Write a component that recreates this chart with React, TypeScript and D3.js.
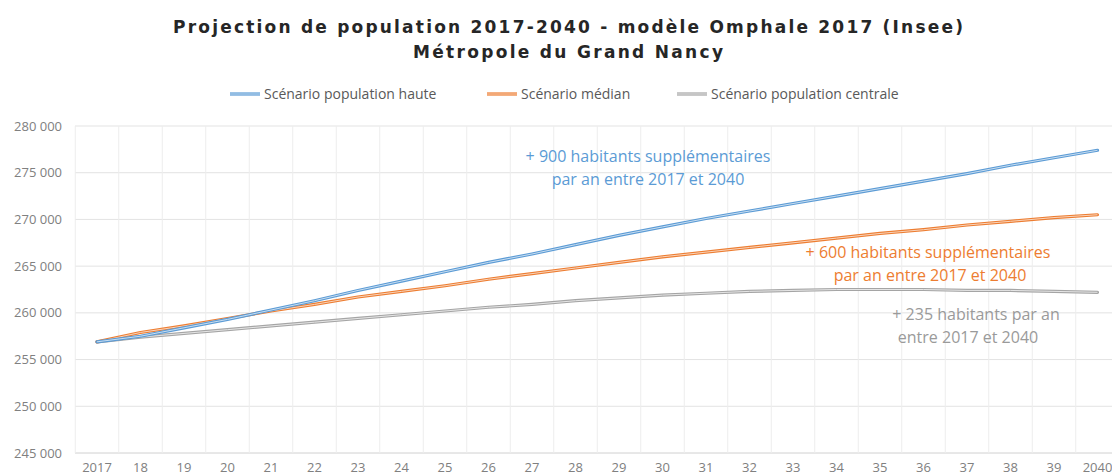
import React from "react";
import * as d3 from "d3";

const years = d3.range(2017, 2041);
const haute = [256.9, 257.5, 258.4, 259.3, 260.3, 261.3, 262.4, 263.4, 264.4, 265.4, 266.3, 267.3, 268.3, 269.2, 270.1, 270.9, 271.7, 272.5, 273.3, 274.1, 274.9, 275.8, 276.6, 277.4];
const median = [256.9, 257.9, 258.6, 259.4, 260.2, 260.9, 261.7, 262.3, 262.9, 263.6, 264.2, 264.8, 265.4, 266.0, 266.5, 267.0, 267.5, 268.0, 268.5, 268.9, 269.4, 269.8, 270.2, 270.5];
const centrale = [256.9, 257.4, 257.8, 258.2, 258.6, 259.0, 259.4, 259.8, 260.2, 260.6, 260.9, 261.3, 261.6, 261.9, 262.1, 262.3, 262.4, 262.5, 262.5, 262.5, 262.4, 262.4, 262.3, 262.2];
const yTicks = [245000, 250000, 255000, 260000, 265000, 270000, 275000, 280000];
const seriesNames = ["Scénario population haute", "Scénario médian", "Scénario population centrale"];
const titleLines = ["Projection de population 2017-2040 - modèle Omphale 2017 (Insee)", "Métropole du Grand Nancy"];

const colors = ["#5B9BD5", "#ED7D31", "#A5A5A5"];
const inner = ["#C9DEF1", "#F9D5BD", "#E6E6E6"];

const fr = d3.formatLocale({ decimal: ",", thousands: "\u00a0", grouping: [3], currency: ["", " €"] });
const fmt = fr.format(",d");

export default function App() {
  const W = 1112, H = 476;
  const x = d3.scaleBand<number>().domain(years).range([75.25, 75.25 + 24 * 43.5]).paddingInner(0).paddingOuter(0);
  const bw = x.bandwidth();
  const cx = (yr: number) => (x(yr) as number) + bw / 2;
  const y = d3.scaleLinear().domain([245000, 280000]).range([453, 126]);
  const line = d3.line<number>().x((_, i) => cx(years[i])).y((v) => y(v * 1000));
  const series = [haute, median, centrale];
  const gridX = years.map((yr) => x(yr) as number).concat([(x(2040) as number) + bw]);
  const font = "'Open Sans', sans-serif";
  const legendX = [230, 487, 677];
  const order = [2, 1, 0];
  return (
    <svg width={W} height={H} style={{ position: "absolute", left: 0, top: 0, background: "#fff" }} fontFamily={font}>
      <rect width={W} height={H} fill="#fff" />
      <text x={568} y={33} textAnchor="middle" fontFamily="'DejaVu Sans', sans-serif" fontWeight="bold" fontSize={17} fill="#262626" textLength={790} lengthAdjust="spacing">{titleLines[0]}</text>
      <text x={568} y={58} textAnchor="middle" fontFamily="'DejaVu Sans', sans-serif" fontWeight="bold" fontSize={17} fill="#262626" textLength={310} lengthAdjust="spacing">{titleLines[1]}</text>
      {seriesNames.map((n, i) => (
        <g key={n}>
          <line x1={legendX[i]} x2={legendX[i] + 30} y1={94} y2={94} stroke={colors[i]} strokeWidth={3.2} />
          <line x1={legendX[i]} x2={legendX[i] + 30} y1={94} y2={94} stroke={inner[i]} strokeWidth={1} />
          <text x={legendX[i] + 34} y={99} fontSize={14} fill="#595959">{n}</text>
        </g>
      ))}
      {yTicks.map((t) => (
        <g key={t}>
          <line x1={75} x2={1120} y1={y(t)} y2={y(t)} stroke={t === 245000 ? "#D0D0D0" : "#E3E3E3"} strokeWidth={1} />
          <text x={62} y={y(t) + 4.5} textAnchor="end" fontSize={13} fill="#808080">{fmt(t)}</text>
        </g>
      ))}
      {gridX.map((gx, i) => (
        <line key={i} x1={gx} x2={gx} y1={126} y2={453} stroke="#EDEDED" strokeWidth={1} />
      ))}
      {years.map((yr, i) => (
        <text key={yr} x={cx(yr)} y={472} textAnchor="middle" fontSize={13} fill="#808080">
          {i === 0 || i === years.length - 1 ? String(yr) : String(yr % 100)}
        </text>
      ))}
      {order.map((i) => (
        <g key={i}>
          <path d={line(series[i]) as string} fill="none" stroke={colors[i]} strokeWidth={3.2} strokeLinejoin="round" strokeLinecap="round" />
          <path d={line(series[i]) as string} fill="none" stroke={inner[i]} strokeWidth={1} strokeLinejoin="round" />
        </g>
      ))}
      <g fontSize={16} textAnchor="middle">
        <text x={648} y={162} fill="#5B9BD5">+ 900 habitants supplémentaires</text>
        <text x={648} y={185} fill="#5B9BD5">par an entre 2017 et 2040</text>
        <text x={928} y={258} fill="#ED7D31">+ 600 habitants supplémentaires</text>
        <text x={930} y={281} fill="#ED7D31">par an entre 2017 et 2040</text>
        <text x={976} y={320} fill="#9A9A9A">+ 235 habitants par an</text>
        <text x={968} y={343} fill="#9A9A9A">entre 2017 et 2040</text>
      </g>
    </svg>
  );
}
